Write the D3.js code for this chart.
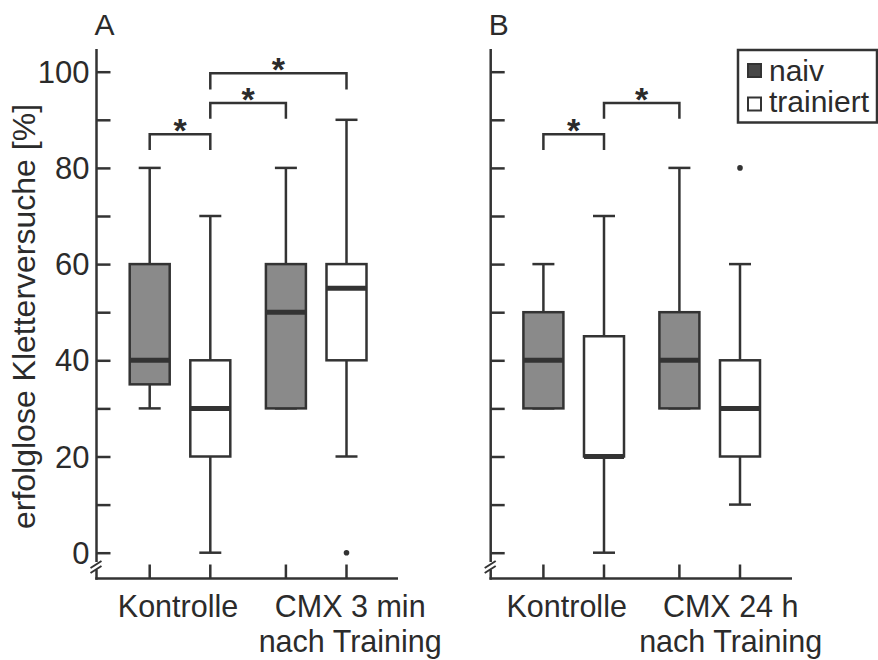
<!DOCTYPE html>
<html>
<head>
<meta charset="utf-8">
<script src="https://cdn.jsdelivr.net/npm/d3@7"></script>
<style>
  html, body { margin: 0; padding: 0; background: #fff; }
  svg { display: block; }
  text { font-family: "Liberation Sans", Arial, sans-serif; fill: #2b2b2b; }
</style>
</head>
<body>
<svg id="chart" width="878" height="660"></svg>
<script>
// ---- data ----
const series = ["naiv", "trainiert"];
const groupsA = ["Kontrolle", "CMX 3 min"];
const groupsB = ["Kontrolle", "CMX 24 h"];
const groupLabelsA = [["Kontrolle"], ["CMX 3 min", "nach Training"]];
const groupLabelsB = [["Kontrolle"], ["CMX 24 h", "nach Training"]];
const majorTicks = [0, 20, 40, 60, 80, 100];
const minorTicks = [10, 30, 50, 70, 90];

// box stats: [lowWhisker, q1, median, q3, highWhisker]
const boxesA = [
  { group: "Kontrolle", series: "naiv",      stats: [30, 35, 40, 60, 80], outliers: [] },
  { group: "Kontrolle", series: "trainiert", stats: [0, 20, 30, 40, 70],  outliers: [] },
  { group: "CMX 3 min", series: "naiv",      stats: [30, 30, 50, 60, 80], outliers: [] },
  { group: "CMX 3 min", series: "trainiert", stats: [20, 40, 55, 60, 90], outliers: [0] }
];
const boxesB = [
  { group: "Kontrolle", series: "naiv",      stats: [30, 30, 40, 50, 60], outliers: [] },
  { group: "Kontrolle", series: "trainiert", stats: [0, 20, 20, 45, 70],  outliers: [] },
  { group: "CMX 24 h",  series: "naiv",      stats: [30, 30, 40, 50, 80], outliers: [] },
  { group: "CMX 24 h",  series: "trainiert", stats: [10, 20, 30, 40, 60], outliers: [80] }
];
// significance brackets: from [group, series] to [group, series], bar level and leg end (values)
const sigA = [
  { from: ["Kontrolle", "naiv"], to: ["Kontrolle", "trainiert"], level: 87, leg: 83.7 },
  { from: ["Kontrolle", "trainiert"], to: ["CMX 3 min", "naiv"], level: 93.5, leg: 90.2 },
  { from: ["Kontrolle", "trainiert"], to: ["CMX 3 min", "trainiert"], level: 99.7, leg: 96.3 }
];
const sigB = [
  { from: ["Kontrolle", "naiv"], to: ["Kontrolle", "trainiert"], level: 87, leg: 83.7 },
  { from: ["Kontrolle", "trainiert"], to: ["CMX 24 h", "naiv"], level: 93.5, leg: 90.2 }
];

// ---- layout ----
const svg = d3.select("#chart");
const ink = "#333";
const y = d3.scaleLinear().domain([0, 100]).range([552.7, 71.7]);
const axisTop = 49, axisBottom = 578.5;
const tickLen = 14;

const panels = [
  { name: "A", x0: 96.5, xEnd: 398, groups: groupsA, labels: groupLabelsA, boxes: boxesA, sig: sigA,
    groupRange: [180, 316.2], labelShift: [-2, 34], showLabels: true },
  { name: "B", x0: 490.7, xEnd: 792, groups: groupsB, labels: groupLabelsB, boxes: boxesB, sig: sigB,
    groupRange: [573.7, 709.7], labelShift: [-7, 21], showLabels: false }
];
const inner = d3.scalePoint().domain(series).range([-30.3, 30.3]);
const fillColor = { naiv: "#8a8a8a", trainiert: "#ffffff" };
const boxW = 40, capW = 22;

panels.forEach(p => {
  const g = svg.append("g");
  const gx = d3.scalePoint().domain(p.groups).range(p.groupRange);
  const xPos = (grp, s) => gx(grp) + inner(s);

  // y axis line (with break)
  g.append("line").attr("x1", p.x0).attr("x2", p.x0).attr("y1", axisTop).attr("y2", 562)
    .attr("stroke", ink).attr("stroke-width", 2.5);
  g.append("line").attr("x1", p.x0).attr("x2", p.x0).attr("y1", 569.5).attr("y2", axisBottom + 1.2)
    .attr("stroke", ink).attr("stroke-width", 2.5);
  // break marks
  [0, 5].forEach(o => {
    g.append("line")
      .attr("x1", p.x0 - 6).attr("y1", 568 + o)
      .attr("x2", p.x0 + 5).attr("y2", 561 + o)
      .attr("stroke", ink).attr("stroke-width", 2);
  });

  // y ticks
  const yAxis = d3.axisRight(y).tickValues(majorTicks.concat(minorTicks)).tickSize(tickLen).tickFormat("");
  const ya = g.append("g").attr("transform", `translate(${p.x0},0)`).call(yAxis);
  ya.select(".domain").remove();
  ya.selectAll(".tick line").attr("stroke", ink).attr("stroke-width", 2.5);

  if (p.showLabels) {
    g.selectAll(".ylab").data(majorTicks).join("text")
      .attr("x", p.x0 - 7).attr("y", d => y(d)).attr("dy", "0.36em")
      .attr("text-anchor", "end").attr("font-size", 31).text(d => d);
  }

  // x axis line
  g.append("line").attr("x1", p.x0 - 1.2).attr("x2", p.xEnd).attr("y1", axisBottom).attr("y2", axisBottom)
    .attr("stroke", ink).attr("stroke-width", 2.5);
  // x ticks
  p.boxes.forEach(b => {
    g.append("line").attr("x1", xPos(b.group, b.series)).attr("x2", xPos(b.group, b.series))
      .attr("y1", axisBottom).attr("y2", axisBottom - tickLen)
      .attr("stroke", ink).attr("stroke-width", 2.5);
  });

  // group labels
  p.groups.forEach((grp, i) => {
    const lines = p.labels[i];
    lines.forEach((ln, j) => {
      g.append("text").attr("x", gx(grp) + p.labelShift[i]).attr("y", 617 + j * 35)
        .attr("text-anchor", "middle").attr("font-size", 30.5).text(ln);
    });
  });

  // boxes
  p.boxes.forEach(b => {
    const cx = xPos(b.group, b.series);
    const [lo, q1, med, q3, hi] = b.stats;
    const bg = g.append("g");
    bg.append("line").attr("x1", cx).attr("x2", cx).attr("y1", y(q3)).attr("y2", y(hi))
      .attr("stroke", ink).attr("stroke-width", 2.5);
    bg.append("line").attr("x1", cx).attr("x2", cx).attr("y1", y(q1)).attr("y2", y(lo))
      .attr("stroke", ink).attr("stroke-width", 2.5);
    bg.append("line").attr("x1", cx - capW / 2).attr("x2", cx + capW / 2).attr("y1", y(hi)).attr("y2", y(hi))
      .attr("stroke", ink).attr("stroke-width", 2.5);
    bg.append("line").attr("x1", cx - capW / 2).attr("x2", cx + capW / 2).attr("y1", y(lo)).attr("y2", y(lo))
      .attr("stroke", ink).attr("stroke-width", 2.5);
    bg.append("rect").attr("x", cx - boxW / 2).attr("y", y(q3)).attr("width", boxW).attr("height", y(q1) - y(q3))
      .attr("fill", fillColor[b.series]).attr("stroke", ink).attr("stroke-width", 2.5);
    bg.append("line").attr("x1", cx - boxW / 2).attr("x2", cx + boxW / 2).attr("y1", y(med)).attr("y2", y(med))
      .attr("stroke", ink).attr("stroke-width", 5);
    b.outliers.forEach(o => {
      bg.append("circle").attr("cx", cx).attr("cy", y(o)).attr("r", 2.8).attr("fill", ink);
    });
  });

  // significance brackets
  p.sig.forEach(s => {
    const xa = xPos(s.from[0], s.from[1]);
    const xb = xPos(s.to[0], s.to[1]);
    const yl = y(s.level), yg = y(s.leg);
    g.append("path").attr("d", `M${xa},${yg}V${yl}H${xb}V${yg}`)
      .attr("fill", "none").attr("stroke", ink).attr("stroke-width", 2.5);
    g.append("text").attr("x", (xa + xb) / 2).attr("y", yl + 8)
      .attr("text-anchor", "middle").attr("font-size", 34).attr("font-weight", "bold").text("*");
  });

  // panel letter
  g.append("text").attr("x", p.x0 - 2).attr("y", 35).attr("font-size", 30).text(p.name);
});

// y axis title
svg.append("text")
  .attr("transform", `translate(35,316.5) rotate(-90)`)
  .attr("text-anchor", "middle").attr("font-size", 32)
  .text("erfolglose Kletterversuche [%]");

// legend
const lg = svg.append("g");
lg.append("rect").attr("x", 738).attr("y", 50).attr("width", 139).attr("height", 72.5)
  .attr("fill", "#fff").attr("stroke", ink).attr("stroke-width", 2.5);
const legendFill = { naiv: "#484848", trainiert: "#ffffff" };
series.forEach((s, i) => {
  lg.append("rect").attr("x", 748).attr("y", 64 + i * 33.5).attr("width", 13).attr("height", 13)
    .attr("fill", legendFill[s]).attr("stroke", ink).attr("stroke-width", 2);
  lg.append("text").attr("x", 769).attr("y", 81 + i * 31).attr("font-size", 30).text(s);
});
</script>
</body>
</html>
